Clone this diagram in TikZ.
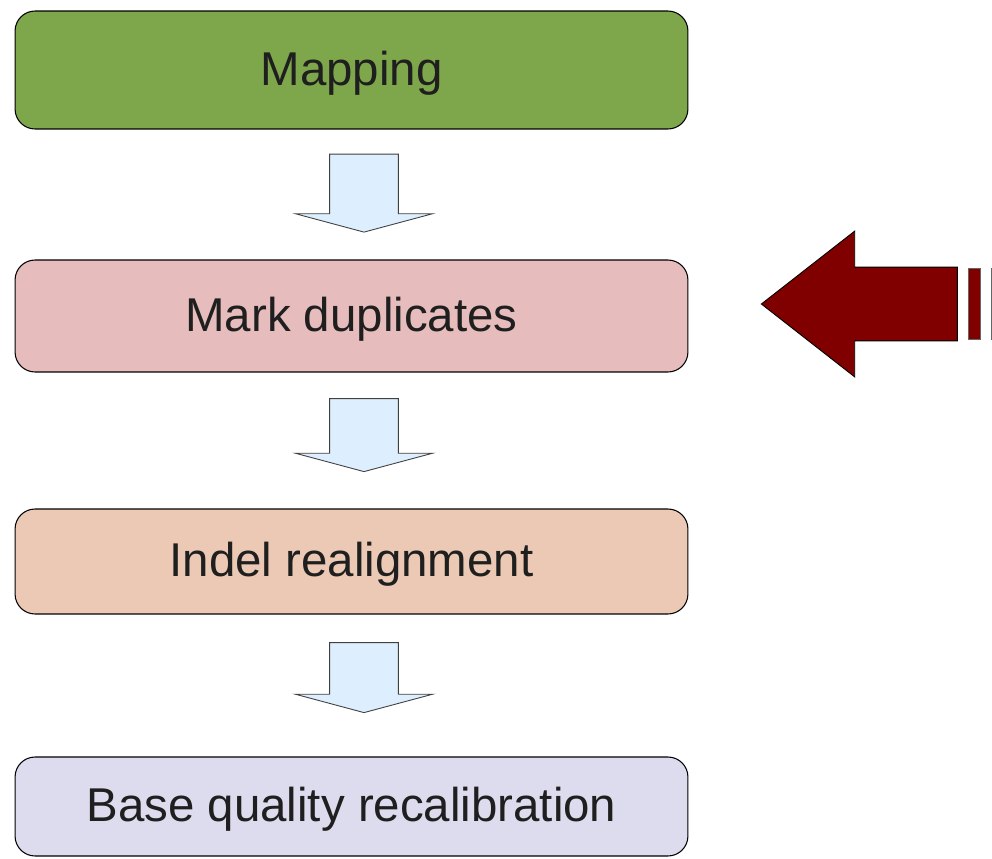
\documentclass[tikz,border=0pt]{standalone}
\usepackage{fontspec}
\setmainfont{Liberation Sans}
\usetikzlibrary{positioning,shapes.arrows}
\definecolor{mapgreen}{HTML}{7EA64A}
\definecolor{duppink}{HTML}{E6BCBC}
\definecolor{indelpeach}{HTML}{ECC9B5}
\definecolor{baselav}{HTML}{DCDCEE}
\definecolor{flowblue}{HTML}{DDEEFF}
\definecolor{markred}{HTML}{800000}
\definecolor{textgray}{HTML}{1F1F1F}
\tikzset{
  stepbox/.style={draw=black, line width=0.6pt, rounded corners=0.4cm, minimum width=13.46cm, align=center, text=textgray, font=\fontsize{27}{32}\selectfont, text height=20.25pt, text depth=2.7pt},
  downarrow/.style={draw=black!75, line width=0.5pt, fill=flowblue, single arrow, rotate=-90, single arrow tip angle=150, single arrow head extend=0.68cm, inner xsep=0pt, inner ysep=0.68cm},
  bigarrow/.style={draw=black, line width=0.5pt, fill=markred, single arrow, rotate=180, single arrow tip angle=76, single arrow head extend=0.72cm, inner xsep=0pt, inner ysep=0.73cm, minimum height=3.92cm},
  redstrip/.style={draw=black!60, line width=0.4pt, fill=markred}
}
\begin{document}
\begin{tikzpicture}[x=0.02cm, y=-0.02cm]
  \useasboundingbox (0,0) rectangle (992,859);
  \clip (0,0) rectangle (992,859);
  % pipeline steps
  \node[stepbox, fill=mapgreen, minimum height=2.36cm] (map) at (351.5,70) {Mapping};
  \node[stepbox, fill=duppink, minimum height=2.24cm] (dup) at (351.5,316) {Mark duplicates};
  \node[stepbox, fill=indelpeach, minimum height=2.10cm] (indel) at (351.5,561.5) {Indel realignment};
  \node[stepbox, fill=baselav, minimum height=1.98cm] (base) at (351.5,806.5) {Base quality recalibration};
  % block arrows between the steps
  \node[downarrow, minimum height=1.56cm] (a1) at (364,188.5) {};
  \node[downarrow, minimum height=1.46cm] (a2) at (364,430.5) {};
  \node[downarrow, minimum height=1.40cm] (a3) at (364,673) {};
  % the red pointer
  \node[bigarrow] (mark) at (883,304) {};
  \draw[redstrip] (968,268) rectangle (980,339);
  \draw[redstrip] (991,268) rectangle (1003,339);
\end{tikzpicture}
\end{document}
